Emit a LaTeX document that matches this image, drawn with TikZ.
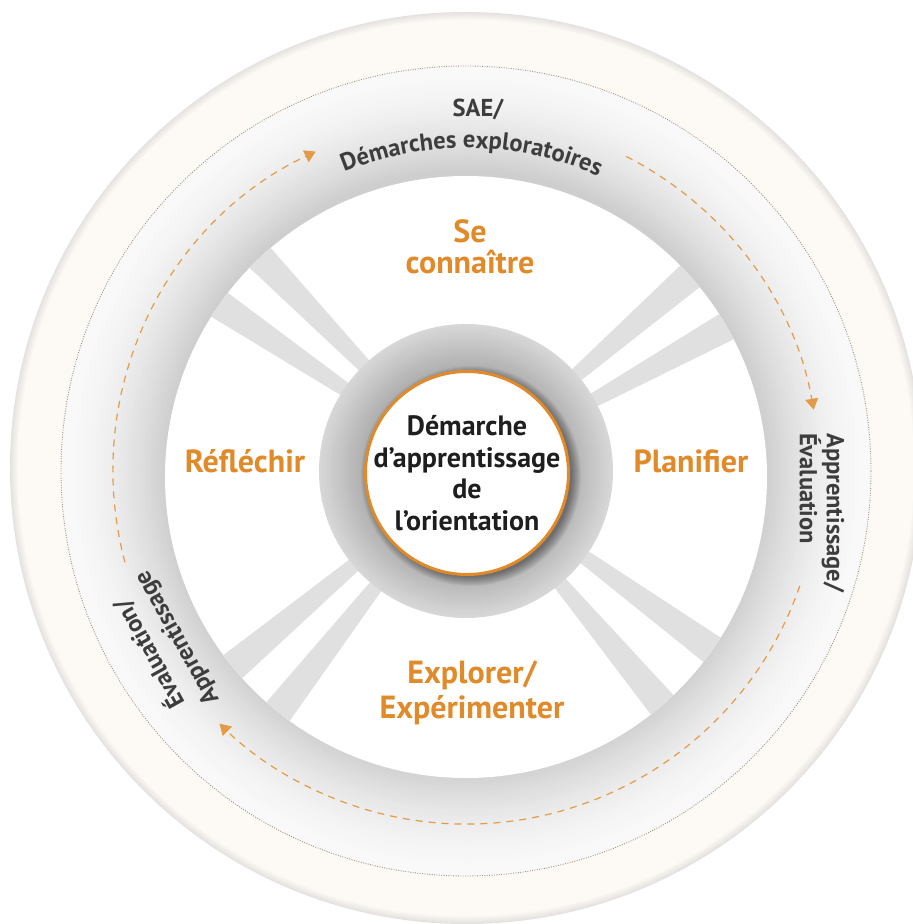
\documentclass[tikz,border=0pt]{standalone}
\usepackage{fontspec}
\setmainfont{PT Sans}
\usetikzlibrary{arrows.meta,decorations.text}

\definecolor{accent}{HTML}{E08A2A}
\definecolor{dashcol}{HTML}{E39B48}
\definecolor{ringink}{HTML}{3D3D3D}
\definecolor{coreink}{HTML}{1E1E1E}
\definecolor{cream}{HTML}{FDFAF6}
\definecolor{rim}{HTML}{E4E2DF}
\definecolor{bandlight}{HTML}{F9F9F9}
\definecolor{banddark}{HTML}{CECECE}
\definecolor{hubout}{HTML}{D8D8D8}
\definecolor{hubin}{HTML}{AFAFAF}
\definecolor{spokecol}{HTML}{E0E0E0}
\definecolor{dotcol}{HTML}{9C8F7F}

\newcommand\ringfont{\bfseries\fontsize{24.5}{27}\selectfont\color{ringink}}

\tikzset{
  stagelabel/.style={font=\bfseries\fontsize{32}{31}\selectfont, text=accent, align=center, inner sep=0pt},
  ringlabel/.style={font=\ringfont, text=ringink, inner sep=0pt},
  corering/.style={circle, draw=accent, line width=3pt, fill=white, minimum size=203pt, inner sep=0pt},
  coretext/.style={align=center, inner sep=0pt, font=\bfseries\fontsize{28}{31.5}\selectfont, text=coreink},
  cycleline/.style={draw=dashcol, line width=1.2pt, dash pattern=on 7pt off 6pt},
  cycletip/.style={-{Triangle[length=11pt,width=13pt]}},
  dotring/.style={draw=dotcol, line width=0.9pt, dash pattern=on 0.9pt off 1.5pt},
}

\begin{document}
\begin{tikzpicture}[x=1pt,y=1pt]
\useasboundingbox (-466,-453) rectangle (447,471);
\fill[white] (-466,-453) rectangle (447,471);

% outer ring with a soft rim
\fill[rim] (0,3) circle (456);
\foreach \k in {1,...,10} {
  \pgfmathtruncatemacro\p{100*\k/10}
  \fill[cream!\p!rim] (0,3) circle ({456-\k*0.8});
}

% grey band, darker towards the inside
\foreach \k in {0,...,52} {
  \pgfmathtruncatemacro\p{100*(\k/52)^1.7}
  \fill[banddark!\p!bandlight] (0,0) circle ({405-2*\k});
}

% dotted boundary between band and outer ring
\draw[dotring] (0,0) circle (405);

% dashed cycle arrows
\draw[cycleline, cycletip] (195:353) arc[start angle=195, end angle=115.2, radius=353];
\draw[cycleline, cycletip] (63:353) arc[start angle=63, end angle=10, radius=353];
\draw[cycleline, cycletip] (-19:353) arc[start angle=-19, end angle=-134.3, radius=353];

% inner white field
\fill[white] (0,-6) circle (301);

% spokes
\begin{scope}
  \clip (0,-6) circle (301);
  \foreach \a in {134,146,41,29,220,232,324,310} {
    \fill[spokecol] (0,0) -- ({\a-2.8}:330) -- ({\a+2.8}:330) -- cycle;
  }
\end{scope}

% hub
\foreach \k in {0,...,44} {
  \pgfmathtruncatemacro\p{100*\k/44}
  \fill[hubin!\p!hubout] (0,0) circle ({147-\k});
}
\foreach \k in {0,...,9} {
  \fill[black, opacity=0.045] (5,-5) circle ({110-\k});
}
\node[corering] (core) at (1,-2) {};
\node[coretext] (coretxt) at (core.center) {Démarche\\d’apprentissage\\de\\l’orientation};

% stage labels
\node[stagelabel] (know) at (4,224) {Se\\connaître};
\node[stagelabel] (reflect) at (-221,10) {Réfléchir};
\node[stagelabel] (plan) at (225,10) {Planifier};
\node[stagelabel] (explore) at (6,-222) {Explorer/\\[4pt]Expérimenter};

% ring labels
\node[ringlabel] (sae) at (12,362) {SAE/};
\path[decorate, decoration={text along path, text align=center,
  text={|\ringfont|Démarches exploratoires}}]
  (149:323) arc[start angle=149, end angle=29, radius=323];
\node[ringlabel, rotate=-90, anchor=west, align=left] (rightlbl) at (356,38) {Apprentissage/\\Évaluation};
\node[ringlabel, rotate=119, align=center, font=\bfseries\fontsize{24.5}{31}\selectfont] (leftlbl) at (-303,-175) {Évaluation/\\Apprentissage};
\end{tikzpicture}
\end{document}
